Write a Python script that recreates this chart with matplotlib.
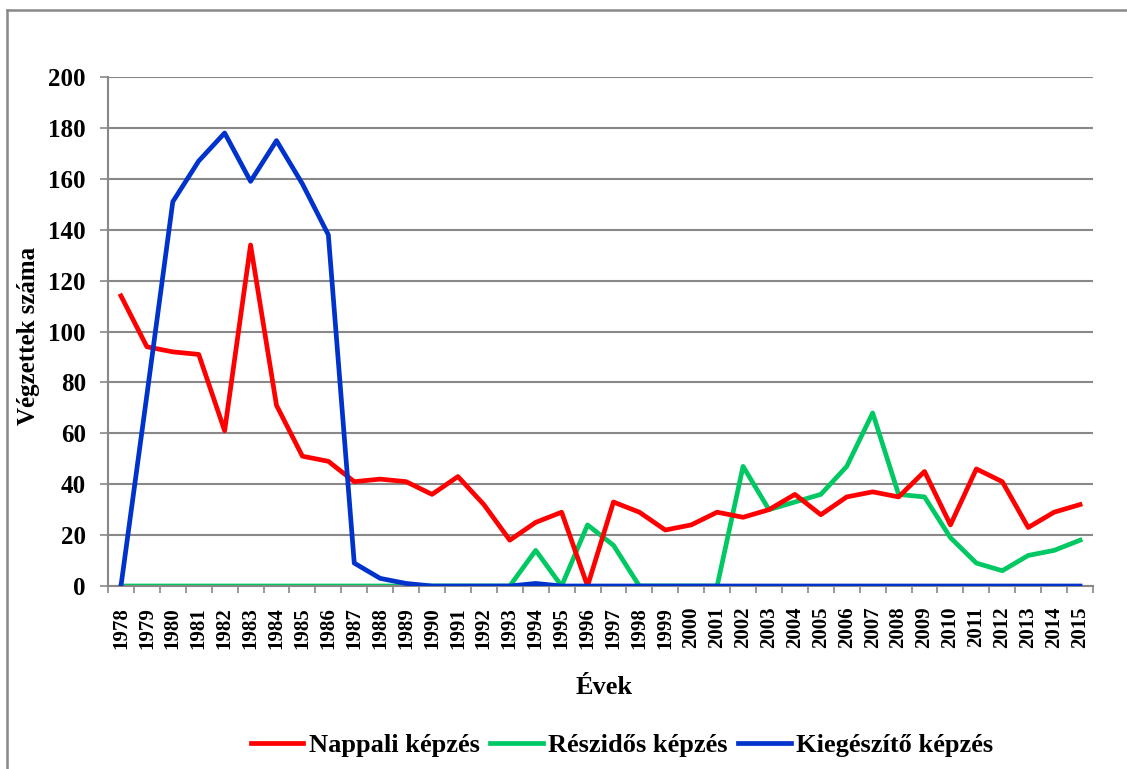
import matplotlib.pyplot as plt
from matplotlib.lines import Line2D
from matplotlib.ticker import FixedLocator, NullFormatter

years = [str(y) for y in range(1978, 2016)]

nappali = [114, 94, 92, 91, 61, 134, 71, 51, 49, 41, 42, 41, 36, 43, 32, 18, 25, 29, 0, 33,
           29, 22, 24, 29, 27, 30, 36, 28, 35, 37, 35, 45, 24, 46, 41, 23, 29, 32]
reszidos = [0, 0, 0, 0, 0, 0, 0, 0, 0, 0, 0, 0, 0, 0, 0, 0, 14, 0, 24, 16,
            0, 0, 0, 0, 47, 30, 33, 36, 47, 68, 36, 35, 19, 9, 6, 12, 14, 18]
kiegeszito = [0, 75, 151, 167, 178, 159, 175, 158, 138, 9, 3, 1, 0, 0, 0, 0, 1, 0, 0, 0,
              0, 0, 0, 0, 0, 0, 0, 0, 0, 0, 0, 0, 0, 0, 0, 0, 0, 0]

plt.rcParams["font.family"] = ["Liberation Serif", "DejaVu Serif"]
plt.rcParams["font.weight"] = "bold"

W, H = 1127, 769
fig = plt.figure(figsize=(W / 100, H / 100), dpi=100)
ax = fig.add_axes([108 / W, 1 - 586 / H, 985 / W, 509 / H])

x = list(range(len(years)))
ax.plot(x, nappali, color="#FF0000", lw=3.4, label="Nappali képzés", zorder=3)
ax.plot(x, reszidos, color="#00C862", lw=3.4, label="Részidős képzés", zorder=2)
ax.plot(x, kiegeszito, color="#0033CC", lw=3.4, label="Kiegészítő képzés", zorder=4)

ax.set_xlim(-0.5, len(years) - 0.5)
ax.set_ylim(0, 200)
ax.set_yticks(range(0, 201, 20))
ax.yaxis.grid(True, color="#888888", lw=1.5)
ax.set_axisbelow(True)

ax.set_xticks(x)
ax.set_xticklabels(years, rotation=90, fontsize=15, fontweight="bold")
ax.tick_params(axis="x", which="major", length=0, pad=15)
ax.xaxis.set_minor_locator(FixedLocator([i - 0.5 for i in range(len(years) + 1)]))
ax.xaxis.set_minor_formatter(NullFormatter())
ax.tick_params(axis="x", which="minor", length=5, color="#888888", width=1.2)
ax.tick_params(axis="y", labelsize=18, length=6, color="#888888", width=1.2, pad=10)
for lab in ax.get_yticklabels():
    lab.set_fontweight("bold")

for side in ["top", "right"]:
    ax.spines[side].set_visible(False)
for side in ["left", "bottom"]:
    ax.spines[side].set_color("#888888")
    ax.spines[side].set_linewidth(1.5)

ax.set_ylabel("Végzettek száma", fontsize=18, fontweight="bold")
ax.yaxis.set_label_coords(40 / W, 1 - 336 / H, transform=fig.transFigure)
ax.set_xlabel("Évek", fontsize=19, fontweight="bold")
ax.xaxis.set_label_coords(604 / W, 1 - 676 / H, transform=fig.transFigure)

fig.legend(loc="center", bbox_to_anchor=(622 / W, 1 - 745 / H), ncol=3, frameon=False,
           prop={"size": 19, "weight": "bold"}, handlelength=2.0, handletextpad=0.2,
           columnspacing=0.4)

# partial outer frame (top and left edges only)
fig.add_artist(Line2D([7 / W, 1], [1 - 10 / H, 1 - 10 / H], transform=fig.transFigure,
                      color="#888888", lw=1.8))
fig.add_artist(Line2D([7 / W, 7 / W], [0, 1 - 10 / H], transform=fig.transFigure,
                      color="#888888", lw=1.8))

fig.savefig("out.png", dpi=100)
